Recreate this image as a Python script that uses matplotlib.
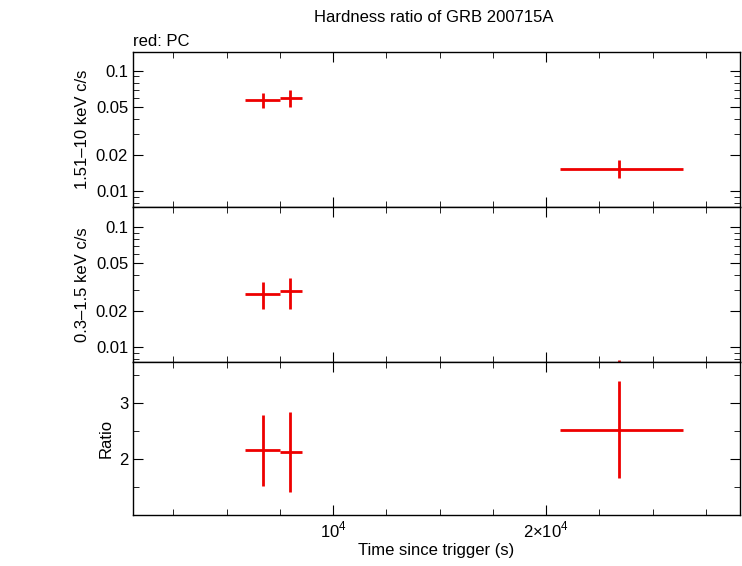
import matplotlib
matplotlib.use("Agg")
import matplotlib.pyplot as plt
from matplotlib.ticker import FixedLocator, NullFormatter, MultipleLocator

plt.rcParams["font.family"] = "Liberation Sans"
plt.rcParams["mathtext.fontset"] = "custom"
plt.rcParams["mathtext.rm"] = "Liberation Sans"

# data
t = [6714, 7990, 23427]
t_lo = [5869, 7512, 20657]
t_hi = [7512, 8545, 26432]

hard = [0.0573, 0.0596, 0.0153]
hard_lo = [0.0495, 0.0505, 0.0128]
hard_hi = [0.0655, 0.0700, 0.0180]

soft = [0.0277, 0.0293, 0.0050]
soft_lo = [0.0207, 0.0207, 0.0035]
soft_hi = [0.0349, 0.0375, 0.0078]

ratio = [2.16, 2.125, 2.52]
ratio_lo = [1.52, 1.41, 1.66]
ratio_hi = [2.79, 2.84, 3.39]

RED = "#ee0000"
W, H = 742, 566
fig = plt.figure(figsize=(W / 100, H / 100), dpi=100)
L, R = 133 / W, 740 / W
def mk(top, bot):
    return fig.add_axes([L, 1 - bot / H, R - L, (bot - top) / H])
ax1, ax2, ax3 = mk(52, 207), mk(207, 362), mk(362, 515)

xerr = [[a - b for a, b in zip(t, t_lo)], [b - a for a, b in zip(t, t_hi)]]
def draw(ax, y, lo, hi):
    yerr = [[a - b for a, b in zip(y, lo)], [b - a for a, b in zip(y, hi)]]
    ax.errorbar(t, y, xerr=xerr, yerr=yerr, fmt="none", ecolor=RED, elinewidth=2)

draw(ax1, hard, hard_lo, hard_hi)
draw(ax2, soft, soft_lo, soft_hi)
draw(ax3, ratio, ratio_lo, ratio_hi)

for ax in (ax1, ax2, ax3):
    ax.set_xlim(610, 29100)
    ax.xaxis.set_major_locator(FixedLocator([10000, 20000]))
    ax.xaxis.set_minor_locator(MultipleLocator(2500))
    ax.tick_params(which="both", direction="in", top=True, right=True, labelsize=12)
    ax.tick_params(which="major", length=7)
    ax.tick_params(which="minor", length=4)
    for s in ax.spines.values():
        s.set_linewidth(1.0)

for ax, lim, lab in ((ax1, (0.00736, 0.144), "1.51\u201310 keV c/s"),
                     (ax2, (0.0075, 0.147), "0.3\u20131.5 keV c/s")):
    ax.set_yscale("log")
    ax.set_ylim(*lim)
    ax.yaxis.set_major_locator(FixedLocator([0.01, 0.02, 0.05, 0.1]))
    ax.yaxis.set_minor_formatter(NullFormatter())
    ax.set_yticklabels(["0.01", "0.02", "0.05", "0.1"])
    ax.set_ylabel(lab, fontsize=12)
    ax.set_xticklabels([])

ax3.set_ylim(1.0, 3.73)
ax3.yaxis.set_major_locator(FixedLocator([2, 3]))
ax3.yaxis.set_minor_locator(MultipleLocator(0.5))
ax3.set_ylabel("Ratio", fontsize=12)
ax3.set_xticklabels(["10$^4$", "2\u00d710$^4$"])
ax3.set_xlabel("Time since trigger (s)", fontsize=12, labelpad=2)

fig.text(0.585, 1 - 18 / H, "Hardness ratio of GRB 200715A", ha="center", va="center", fontsize=12)
fig.text(L, 1 - 42 / H, "red: PC", ha="left", va="center", fontsize=12)

fig.savefig("out.png", dpi=100)
